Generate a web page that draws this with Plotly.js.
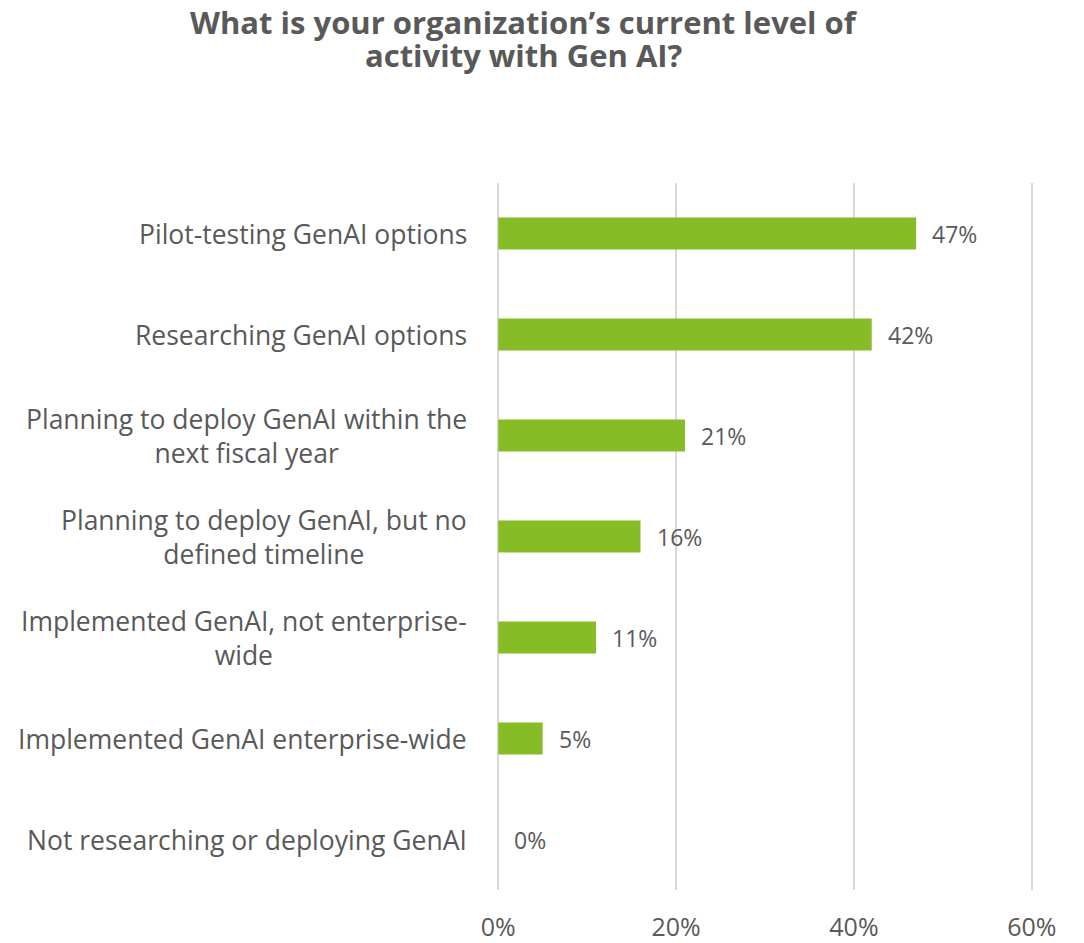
<!DOCTYPE html>
<html>
<head>
<meta charset="utf-8">
<script src="https://cdn.plot.ly/plotly-3.0.1.min.js"></script>
<style>html,body{margin:0;padding:0;background:#fff;}#chart{width:1084px;height:943px;}</style>
</head>
<body>
<div id="chart"></div>
<script>
const categories = [
  "Pilot-testing GenAI options",
  "Researching GenAI options",
  "Planning to deploy GenAI within the<br>next fiscal year",
  "Planning to deploy GenAI, but no<br>defined timeline",
  "Implemented GenAI, not enterprise-<br>wide",
  "Implemented GenAI enterprise-wide",
  "Not researching or deploying GenAI"
];
const values = [47, 42, 21, 16, 11, 5, 0];
const tickVals = [0, 20, 40, 60];
const tickText = ["0%", "20%", "40%", "60%"];
const titleLines = ["What is your organization’s current level of", "activity with Gen AI?"];

const textColor = "#595959";
const font = "Open Sans, sans-serif";

const annotations = [];
titleLines.forEach((t, i) => {
  annotations.push({
    xref: "paper", yref: "paper", x: 0.052, y: 1.2277 - i * 0.0467,
    xanchor: "center", yanchor: "middle",
    align: "center", showarrow: false, text: "<b>" + t + "</b>",
    font: {family: font, size: 31, color: textColor}
  });
});
categories.forEach((c, i) => {
  annotations.push({
    xref: "paper", yref: "y", x: 0, y: c, xanchor: "right", yanchor: "middle",
    xshift: -27, align: "center", showarrow: false, text: c,
    font: {family: font, size: 26.5, color: textColor}
  });
  annotations.push({
    xref: "x", yref: "y", x: values[i], y: c, xanchor: "left", yanchor: "middle",
    xshift: 14, showarrow: false, text: values[i] + "%",
    font: {family: font, size: 23, color: textColor}
  });
});

const data = [{
  type: "bar", orientation: "h",
  x: values, y: categories,
  marker: {color: "#86BC25"},
  hoverinfo: "none"
}];

const layout = {
  width: 1084, height: 943,
  margin: {l: 496, r: 50, t: 183, b: 53},
  paper_bgcolor: "#fff", plot_bgcolor: "#fff",
  bargap: 0.685,
  showlegend: false,
  xaxis: {
    range: [-0.25, 60.25], tickvals: tickVals, ticktext: tickText,
    showgrid: true, gridcolor: "#d9d9d9", gridwidth: 1.8,
    zeroline: false, showline: false, ticks: "",
    ticklabelstandoff: 20,
    tickfont: {family: font, size: 25, color: textColor},
    fixedrange: true
  },
  yaxis: {
    type: "category", autorange: "reversed",
    showticklabels: false, showgrid: false, zeroline: false, showline: false, ticks: "",
    fixedrange: true
  },
  annotations: annotations
};

Plotly.newPlot("chart", data, layout, {displayModeBar: false, staticPlot: true});
</script>
</body>
</html>
